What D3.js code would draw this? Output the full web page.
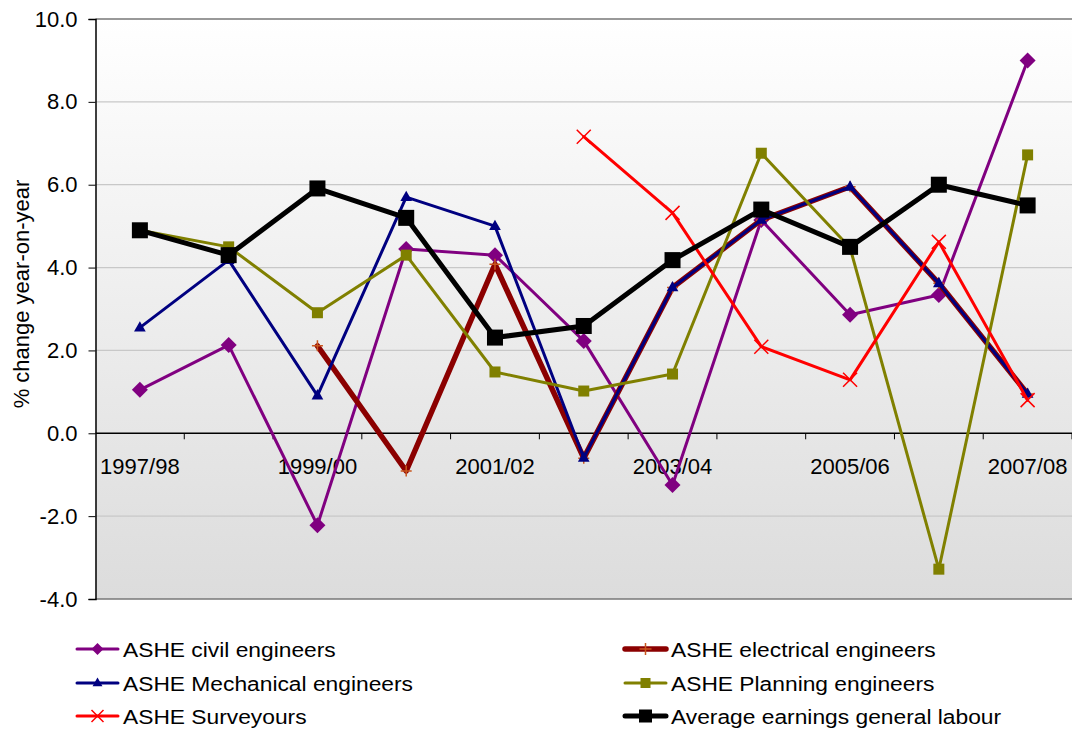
<!DOCTYPE html>
<html>
<head>
<meta charset="utf-8">
<script src="https://cdn.jsdelivr.net/npm/d3@7/dist/d3.min.js"></script>
<style>
  html, body { margin: 0; padding: 0; background: #ffffff; }
  svg { display: block; font-family: "Liberation Sans", Arial, sans-serif; }
</style>
</head>
<body>
<svg id="chart" width="1072" height="729"></svg>
<script>
// Financial years on the category axis
const categories = ["1997/98", "1998/99", "1999/00", "2000/01", "2001/02", "2002/03",
                    "2003/04", "2004/05", "2005/06", "2006/07", "2007/08"];
// Only every second year is labelled
const xTickLabels = ["1997/98", "1999/00", "2001/02", "2003/04", "2005/06", "2007/08"];
const yTicks = [-4, -2, 0, 2, 4, 6, 8, 10];

// % change year-on-year (null = no data)
const civilEngineers      = [1.05, 2.13, -2.22, 4.45, 4.30, 2.23, -1.25, 5.15, 2.86, 3.34, 9.00];
const electricalEngineers = [null, null, 2.11, -0.91, 4.08, -0.60, 3.52, 5.15, 5.95, 3.62, 0.95];
const mechanicalEngineers = [2.55, 4.18, 0.91, 5.70, 5.00, -0.59, 3.52, 5.15, 5.95, 3.62, 0.95];
const planningEngineers   = [4.90, 4.50, 2.91, 4.30, 1.48, 1.02, 1.43, 6.76, 4.48, -3.28, 6.72];
const surveyors           = [null, null, null, null, null, 7.16, 5.32, 2.09, 1.29, 4.62, 0.80];
const averageEarnings     = [4.90, 4.30, 5.91, 5.20, 2.31, 2.59, 4.18, 5.40, 4.50, 6.00, 5.50];

const series = [
  { name: "ASHE civil engineers", values: civilEngineers, color: "#800080", width: 3, marker: "diamond", mColor: "#800080", size: 8 },
  { name: "ASHE electrical engineers", values: electricalEngineers, color: "#8b0000", width: 5.5, marker: "plus", mColor: "#c8561e", size: 5.5 },
  { name: "ASHE Mechanical engineers", values: mechanicalEngineers, color: "#000080", width: 3, marker: "triangle", mColor: "#000080", size: 6.5 },
  { name: "ASHE Planning engineers", values: planningEngineers, color: "#808000", width: 3, marker: "square", mColor: "#808000", size: 5.5 },
  { name: "ASHE Surveyours", values: surveyors, color: "#ff0000", width: 3, marker: "cross", mColor: "#ff0000", size: 7 },
  { name: "Average earnings general labour", values: averageEarnings, color: "#000000", width: 5, marker: "square", mColor: "#000000", size: 8 }
];

const svg = d3.select("#chart");
const plot = { left: 95.5, top: 19, right: 1072, bottom: 599 };

const x = d3.scaleBand().domain(categories).range([plot.left, plot.right]).padding(0);
const cx = c => x(c) + x.bandwidth() / 2;
const y = d3.scaleLinear().domain([-4, 10]).range([plot.bottom, plot.top]);

// Plot background gradient
const defs = svg.append("defs");
const grad = defs.append("linearGradient").attr("id", "bg").attr("x1", 0).attr("y1", 0).attr("x2", 0).attr("y2", 1);
grad.append("stop").attr("offset", "0%").attr("stop-color", "#ffffff");
grad.append("stop").attr("offset", "100%").attr("stop-color", "#dcdcdc");

svg.append("rect")
  .attr("x", plot.left).attr("y", plot.top)
  .attr("width", plot.right - plot.left).attr("height", plot.bottom - plot.top)
  .attr("fill", "url(#bg)");

// Horizontal gridlines
svg.append("g").selectAll("line").data(yTicks.filter(t => t !== 0 && t !== 10 && t !== -4)).join("line")
  .attr("x1", plot.left).attr("x2", plot.right)
  .attr("y1", d => y(d)).attr("y2", d => y(d))
  .attr("stroke", "#c8c8c8").attr("stroke-width", 1.2);

// Plot frame top / bottom
[10, -4].forEach(v => {
  svg.append("line").attr("x1", plot.left).attr("x2", plot.right)
    .attr("y1", y(v)).attr("y2", y(v))
    .attr("stroke", "#777777").attr("stroke-width", 1.5);
});

// Y axis
const yAxis = d3.axisLeft(y).tickValues(yTicks).tickSize(7).tickPadding(11).tickFormat(d3.format(".1f"));
const gy = svg.append("g").attr("transform", `translate(${plot.left},0)`).call(yAxis);
gy.select(".domain").attr("stroke", "#000").attr("stroke-width", 1.5);
gy.selectAll(".tick line").attr("stroke", "#000").attr("stroke-width", 1);
gy.selectAll(".tick text").attr("font-size", 22).attr("fill", "#000")
  .attr("font-family", "Liberation Sans, Arial, sans-serif")
  .text(d => d3.format(".1f")(d).replace("−", "-"));

// Zero line with category boundary ticks
svg.append("line").attr("x1", plot.left).attr("x2", plot.right)
  .attr("y1", y(0)).attr("y2", y(0)).attr("stroke", "#000").attr("stroke-width", 1.5);
svg.append("g").selectAll("line").data(categories).join("line")
  .attr("x1", (d, i) => plot.left + (i + 1) * x.bandwidth())
  .attr("x2", (d, i) => plot.left + (i + 1) * x.bandwidth())
  .attr("y1", y(0)).attr("y2", y(0) + 6)
  .attr("stroke", "#000").attr("stroke-width", 1);

// Category labels
svg.append("g").selectAll("text").data(xTickLabels).join("text")
  .attr("x", d => cx(d)).attr("y", y(0) + 41)
  .attr("text-anchor", "middle").attr("font-size", 22).attr("fill", "#000")
  .text(d => d);

// Y axis title
svg.append("text")
  .attr("transform", `translate(29,294) rotate(-90)`)
  .attr("text-anchor", "middle").attr("font-size", 22).attr("fill", "#000")
  .text("% change year-on-year");

// Marker drawing
function drawMarker(g, type, px, py, s, color) {
  if (type === "diamond") {
    g.append("path").attr("d", `M${px},${py - s}L${px + s},${py}L${px},${py + s}L${px - s},${py}Z`).attr("fill", color);
  } else if (type === "triangle") {
    g.append("path").attr("d", `M${px},${py - s}L${px + s * 0.9},${py + s * 0.6}L${px - s * 0.9},${py + s * 0.6}Z`).attr("fill", color);
  } else if (type === "square") {
    g.append("rect").attr("x", px - s).attr("y", py - s).attr("width", 2 * s).attr("height", 2 * s).attr("fill", color);
  } else if (type === "cross") {
    g.append("path").attr("d", `M${px - s},${py - s}L${px + s},${py + s}M${px - s},${py + s}L${px + s},${py - s}`)
      .attr("stroke", color).attr("stroke-width", 1.5).attr("fill", "none");
  } else if (type === "plus") {
    g.append("path").attr("d", `M${px - s},${py}L${px + s},${py}M${px},${py - s}L${px},${py + s}`)
      .attr("stroke", color).attr("stroke-width", 1.5).attr("fill", "none");
  }
}

const line = d3.line()
  .defined(d => d.v !== null)
  .x(d => cx(d.c))
  .y(d => y(d.v));

const gSeries = svg.append("g");
series.forEach(s => {
  const pts = categories.map((c, i) => ({ c, v: s.values[i] }));
  const g = gSeries.append("g");
  g.append("path").datum(pts).attr("d", line)
    .attr("fill", "none").attr("stroke", s.color).attr("stroke-width", s.width)
    .attr("stroke-linejoin", "round").attr("stroke-linecap", "round");
  pts.filter(p => p.v !== null).forEach(p => drawMarker(g, s.marker, cx(p.c), y(p.v), s.size, s.mColor));
});

// Legend, two columns
const legendCols = [77, 625];
const legendRows = [649, 683, 716];
series.forEach((s, i) => {
  const lx = legendCols[i % 2];
  const ly = legendRows[Math.floor(i / 2)];
  const g = svg.append("g");
  g.append("line").attr("x1", lx).attr("x2", lx + 41).attr("y1", ly).attr("y2", ly)
    .attr("stroke", s.color).attr("stroke-width", s.width).attr("stroke-linecap", "round");
  const ms = s.marker === "square" ? (s.color === "#000000" ? 6.5 : 5) : (s.marker === "triangle" ? 5.5 : 6);
  drawMarker(g, s.marker, lx + 20.5, ly, ms, s.mColor);
  g.append("text")
    .attr("transform", `translate(${lx + 46},${ly + 8}) scale(1.085,1)`)
    .attr("font-size", 21).attr("fill", "#000").text(s.name);
});
</script>
</body>
</html>
